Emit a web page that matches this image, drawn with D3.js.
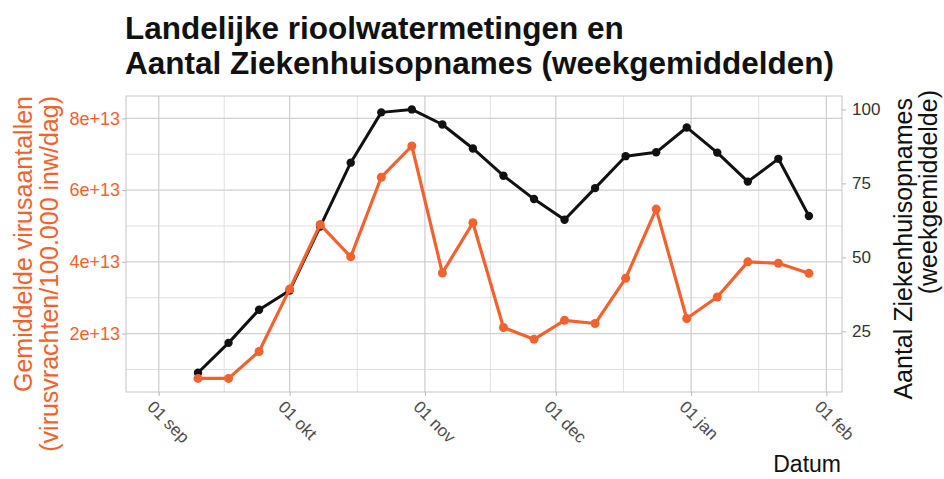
<!DOCTYPE html>
<html lang="nl">
<head>
    <meta charset="UTF-8">
    <title>Rioolwatermetingen en ziekenhuisopnames</title>
    <script src="https://cdnjs.cloudflare.com/ajax/libs/d3/7.8.5/d3.min.js"></script>
    <style>
        body { margin: 0; background: #fff; }
        #chart { font-family: "Liberation Sans", Arial, sans-serif; }
    </style>
</head>
<body>
    <div id="chart"></div>

    <script>
        // weekly values
        const dates = [
            "2020-09-10", "2020-09-17", "2020-09-24", "2020-10-01", "2020-10-08",
            "2020-10-15", "2020-10-22", "2020-10-29", "2020-11-05", "2020-11-12",
            "2020-11-19", "2020-11-26", "2020-12-03", "2020-12-10", "2020-12-17",
            "2020-12-24", "2020-12-31", "2021-01-07", "2021-01-14", "2021-01-21",
            "2021-01-28"
        ];
        const virusLoad = [
            0.75e13, 0.75e13, 1.5e13, 3.24e13, 5.04e13, 4.14e13, 6.36e13, 7.23e13,
            3.69e13, 5.09e13, 2.17e13, 1.84e13, 2.37e13, 2.28e13, 3.54e13, 5.47e13,
            2.42e13, 3.02e13, 4.0e13, 3.96e13, 3.68e13
        ];
        const admissions = [
            11.0, 21.1, 32.3, 38.8, 60.4, 82.0, 99.0, 100.0, 94.9, 86.8, 77.6,
            69.7, 62.7, 73.4, 84.2, 85.5, 93.9, 85.4, 75.6, 83.3, 64.0
        ];
        const virusTicks = [2e13, 4e13, 6e13, 8e13];
        const virusTickLabels = ["2e+13", "4e+13", "6e+13", "8e+13"];
        const admissionTicks = [25, 50, 75, 100];
        const monthNames = ["jan", "feb", "mrt", "apr", "mei", "jun", "jul", "aug", "sep", "okt", "nov", "dec"];

        const width = 944;
        const height = 479;
        const margin = { top: 96, right: 102, bottom: 87, left: 126 };
        const innerW = width - margin.left - margin.right;
        const innerH = height - margin.top - margin.bottom;

        const orange = "#f2622e";
        const ratio = 8.25e11; // secondary axis: admissions = virus load / ratio

        const parse = d3.utcParse("%Y-%m-%d");
        const rows = dates.map((d, i) => ({ date: parse(d), virus: virusLoad[i], adm: admissions[i] }));

        const svg = d3.select("#chart")
            .append("svg")
            .attr("width", width)
            .attr("height", height);

        const g = svg.append("g")
            .attr("transform", `translate(${margin.left},${margin.top})`);

        const x = d3.scaleUtc()
            .domain([new Date(Date.UTC(2020, 7, 24, 12)), new Date(Date.UTC(2021, 1, 4, 14))])
            .range([0, innerW]);

        const y = d3.scaleLinear()
            .domain([0.371e13, 8.624e13])
            .range([innerH, 0]);

        const yRight = d3.scaleLinear()
            .domain(y.domain().map(v => v / ratio))
            .range(y.range());

        // grid
        const monthTicks = x.ticks(d3.utcMonth.every(1));
        const xMinor = d3.pairs(monthTicks).map(([a, b]) => (x(a) + x(b)) / 2);
        const yMinor = d3.pairs([0, ...virusTicks]).map(([a, b]) => y((a + b) / 2));

        const grid = g.append("g");
        grid.selectAll(".ymin").data(yMinor).enter().append("line")
            .attr("x1", 0).attr("x2", innerW)
            .attr("y1", d => d).attr("y2", d => d)
            .attr("stroke", "#e0e0e0").attr("stroke-width", 1);
        grid.selectAll(".xmin").data(xMinor).enter().append("line")
            .attr("y1", 0).attr("y2", innerH)
            .attr("x1", d => d).attr("x2", d => d)
            .attr("stroke", "#e0e0e0").attr("stroke-width", 1);
        grid.selectAll(".ymaj").data(virusTicks).enter().append("line")
            .attr("x1", 0).attr("x2", innerW)
            .attr("y1", d => y(d)).attr("y2", d => y(d))
            .attr("stroke", "#d0d0d0").attr("stroke-width", 1.3);
        grid.selectAll(".xmaj").data(monthTicks).enter().append("line")
            .attr("y1", 0).attr("y2", innerH)
            .attr("x1", d => x(d)).attr("x2", d => x(d))
            .attr("stroke", "#d0d0d0").attr("stroke-width", 1.3);

        g.append("rect")
            .attr("width", innerW)
            .attr("height", innerH)
            .attr("fill", "none")
            .attr("stroke", "#c4c4c4")
            .attr("stroke-width", 1);

        // axes
        const xAxis = g.append("g")
            .attr("transform", `translate(0,${innerH})`)
            .call(d3.axisBottom(x)
                .tickValues(monthTicks)
                .tickSize(4)
                .tickFormat(d => d3.utcFormat("%d")(d) + " " + monthNames[d.getUTCMonth()]));
        xAxis.selectAll("text")
            .attr("x", 0).attr("y", 0).attr("dy", 0)
            .attr("transform", "translate(-13,16) rotate(45)")
            .style("text-anchor", "start")
            .attr("fill", "#4d4d4d")
            .style("font-size", "17px");

        const yAxis = g.append("g")
            .call(d3.axisLeft(y)
                .tickValues(virusTicks)
                .tickSize(4)
                .tickPadding(2)
                .tickFormat((d, i) => virusTickLabels[i]));
        yAxis.selectAll("text")
            .attr("fill", orange)
            .style("font-size", "18px");

        const yAxisRight = g.append("g")
            .attr("transform", `translate(${innerW},0)`)
            .call(d3.axisRight(yRight)
                .tickValues(admissionTicks)
                .tickSize(4)
                .tickPadding(6));
        yAxisRight.selectAll("text")
            .attr("fill", "#333")
            .style("font-size", "17px");

        [xAxis, yAxis, yAxisRight].forEach(a => {
            a.select(".domain").remove();
            a.selectAll(".tick line").attr("stroke", "#b8b8b8");
            a.style("font-family", null);
        });

        // lines
        const admLine = d3.line()
            .x(d => x(d.date))
            .y(d => yRight(d.adm));
        const virusLine = d3.line()
            .x(d => x(d.date))
            .y(d => y(d.virus));

        g.append("path")
            .datum(rows)
            .attr("d", admLine)
            .attr("fill", "none")
            .attr("stroke", "#111")
            .attr("stroke-width", 3)
            .attr("stroke-linejoin", "round");
        g.selectAll(".adm-pt")
            .data(rows)
            .enter().append("circle")
            .attr("cx", d => x(d.date))
            .attr("cy", d => yRight(d.adm))
            .attr("r", 4.2)
            .attr("fill", "#111");

        g.append("path")
            .datum(rows)
            .attr("d", virusLine)
            .attr("fill", "none")
            .attr("stroke", orange)
            .attr("stroke-width", 3.2)
            .attr("stroke-linejoin", "round");
        g.selectAll(".virus-pt")
            .data(rows)
            .enter().append("circle")
            .attr("cx", d => x(d.date))
            .attr("cy", d => y(d.virus))
            .attr("r", 4.5)
            .attr("fill", orange);

        // titles
        const title = svg.append("text")
            .attr("x", 125)
            .attr("font-size", "31.5px")
            .attr("font-weight", "bold")
            .attr("fill", "#111");
        title.append("tspan").attr("x", 125).attr("y", 39).text("Landelijke rioolwatermetingen en");
        title.append("tspan").attr("x", 125).attr("y", 74).text("Aantal Ziekenhuisopnames (weekgemiddelden)");

        const leftTitle = svg.append("text")
            .attr("transform", `translate(0,${margin.top}) rotate(-90)`)
            .attr("text-anchor", "end")
            .attr("font-size", "25px")
            .attr("fill", orange);
        leftTitle.append("tspan").attr("x", 0).attr("y", 32).text("Gemiddelde virusaantallen");
        leftTitle.append("tspan").attr("x", 0).attr("y", 58).text("(virusvrachten/100.000 inw/dag)");

        const rightTitle = svg.append("text")
            .attr("transform", `translate(0,${margin.top}) rotate(-90)`)
            .attr("text-anchor", "end")
            .attr("font-size", "25px")
            .attr("fill", "#111");
        rightTitle.append("tspan").attr("x", -2).attr("y", 912).text("Aantal Ziekenhuisopnames");
        rightTitle.append("tspan").attr("x", 6).attr("y", 937).text("(weekgemiddelde)");

        svg.append("text")
            .attr("x", margin.left + innerW - 1)
            .attr("y", 472)
            .attr("text-anchor", "end")
            .attr("font-size", "23px")
            .attr("fill", "#111")
            .text("Datum");
    </script>
</body>
</html>
